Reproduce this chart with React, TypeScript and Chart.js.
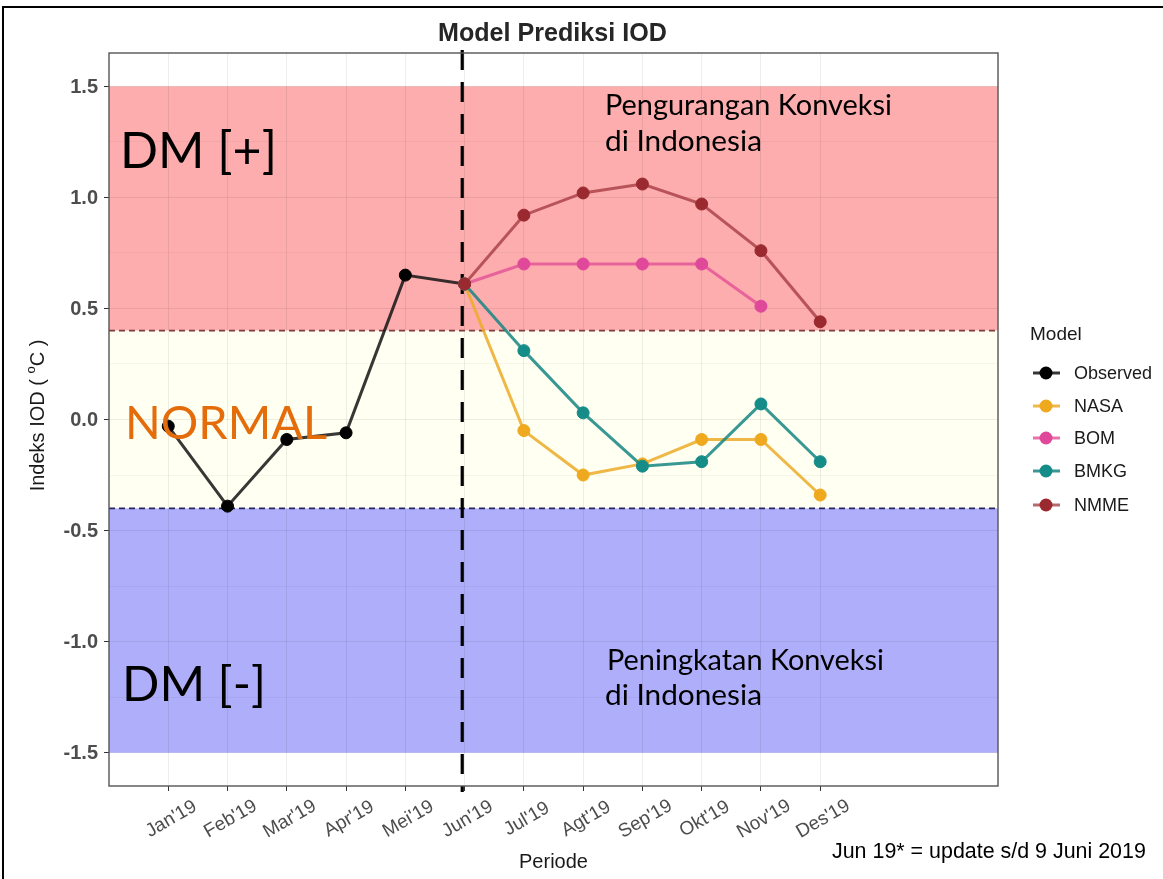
import React, { useEffect, useRef } from 'react';
import { Chart, registerables } from 'chart.js';

Chart.register(...registerables);

// ---------- data ----------
const months = ["Jan'19", "Feb'19", "Mar'19", "Apr'19", "Mei'19", "Jun'19", "Jul'19", "Agt'19", "Sep'19", "Okt'19", "Nov'19", "Des'19"];
const observed = [-0.03, -0.39, -0.09, -0.06, 0.65, 0.61]; // Jan..Jun
const forecastStart = 5; // index of Jun'19
const nasa = [0.61, -0.05, -0.25, -0.2, -0.09, -0.09, -0.34]; // Jun..Des
const bom = [0.61, 0.7, 0.7, 0.7, 0.7, 0.51]; // Jun..Nov
const bmkg = [0.61, 0.31, 0.03, -0.21, -0.19, 0.07, -0.19]; // Jun..Des
const nmme = [0.61, 0.92, 1.02, 1.06, 0.97, 0.76, 0.44]; // Jun..Des
const yMajorTicks = [-1.5, -1.0, -0.5, 0.0, 0.5, 1.0, 1.5];
const positiveBand = [0.4, 1.5];
const normalBand = [-0.4, 0.4];
const negativeBand = [-1.5, -0.4];
const thresholds = [0.4, -0.4];
const updateMarkX = 4.96;
const seriesNames = ['Observed', 'NASA', 'BOM', 'BMKG', 'NMME'];

// ---------- styles ----------
const pointColors = ['#000000', '#EFA91F', '#E0489A', '#168C88', '#9A2A30'];
const lineColors = ['rgba(20,20,20,0.85)', 'rgba(236,172,40,0.85)', 'rgba(226,80,150,0.8)', 'rgba(22,134,130,0.85)', 'rgba(160,55,62,0.75)'];
const AX = '"Liberation Sans", Arial, sans-serif';
const CAL = 'Lato, "Open Sans", sans-serif';

function fitText(ctx: CanvasRenderingContext2D, text: string, x: number, y: number, width: number, weight: string, family: string, color: string) {
  ctx.save();
  ctx.font = `${weight} 100px ${family}`;
  const w = ctx.measureText(text).width;
  const size = (100 * width) / w;
  ctx.font = `${weight} ${size}px ${family}`;
  ctx.fillStyle = color;
  ctx.textAlign = 'left';
  ctx.textBaseline = 'alphabetic';
  ctx.fillText(text, x, y);
  ctx.restore();
}

const yAllTicks: number[] = [];
yMajorTicks.forEach((v, i) => {
  yAllTicks.push(v);
  if (i < yMajorTicks.length - 1) yAllTicks.push((v + yMajorTicks[i + 1]) / 2);
});
const isMajor = (v: number) => yMajorTicks.some((m) => Math.abs(m - v) < 1e-6);

const decorPlugin = {
  id: 'decor',
  beforeDraw(chart: any) {
    const { ctx, chartArea: a, scales } = chart;
    const y = scales.y;
    ctx.save();
    const band = (r: number[], col: string) => {
      const t = y.getPixelForValue(r[1]);
      const b = y.getPixelForValue(r[0]);
      ctx.fillStyle = col;
      ctx.fillRect(a.left, t, a.right - a.left, b - t);
    };
    band(positiveBand, 'rgb(253,173,173)');
    band(normalBand, 'rgb(255,255,242)');
    band(negativeBand, 'rgb(174,174,250)');
    ctx.restore();
  },
  beforeDatasetsDraw(chart: any) {
    const { ctx, chartArea: a, scales } = chart;
    const y = scales.y;
    const x = scales.x;
    ctx.save();
    ctx.lineWidth = 1.6;
    ctx.setLineDash([6, 4]);
    thresholds.forEach((t, i) => {
      const py = y.getPixelForValue(t);
      ctx.strokeStyle = i === 0 ? '#7E3C3C' : '#262660';
      ctx.beginPath();
      ctx.moveTo(a.left, py);
      ctx.lineTo(a.right, py);
      ctx.stroke();
    });
    const vx = x.getPixelForValue(updateMarkX);
    ctx.strokeStyle = '#000';
    ctx.lineWidth = 3.2;
    ctx.setLineDash([20, 12]);
    ctx.beginPath();
    ctx.moveTo(vx, a.top - 3);
    ctx.lineTo(vx, a.bottom + 6);
    ctx.stroke();
    ctx.restore();
  },
  afterDraw(chart: any) {
    const { ctx, chartArea: a, scales } = chart;
    const y = scales.y;
    const x = scales.x;
    ctx.save();
    // panel border
    ctx.strokeStyle = '#555';
    ctx.lineWidth = 1.4;
    ctx.strokeRect(a.left, a.top, a.right - a.left, a.bottom - a.top);

    // y tick labels
    ctx.fillStyle = '#4d4d4d';
    ctx.font = `bold 20px ${AX}`;
    ctx.textAlign = 'right';
    ctx.textBaseline = 'middle';
    yMajorTicks.forEach((v) => {
      ctx.fillText(v.toFixed(1), a.left - 11, y.getPixelForValue(v) + 1);
    });

    // x tick labels, rotated
    ctx.font = `19px ${AX}`;
    ctx.textAlign = 'center';
    ctx.textBaseline = 'middle';
    months.forEach((m, i) => {
      const px = x.getPixelForValue(i);
      ctx.save();
      ctx.translate(px + 3, a.bottom + 33);
      ctx.rotate((-30 * Math.PI) / 180);
      ctx.fillText(m, 0, 0);
      ctx.restore();
    });

    // axis titles
    ctx.fillStyle = '#1a1a1a';
    ctx.font = `20px ${AX}`;
    ctx.textAlign = 'center';
    ctx.textBaseline = 'alphabetic';
    ctx.fillText('Periode', (a.left + a.right) / 2, 868);

    // y title with superscript
    ctx.save();
    ctx.translate(44, (a.top + a.bottom) / 2 - 4);
    ctx.rotate(-Math.PI / 2);
    ctx.textAlign = 'left';
    ctx.textBaseline = 'alphabetic';
    const p1 = 'Indeks IOD ( ';
    const sup = 'o';
    const p2 = 'C )';
    ctx.font = `20px ${AX}`;
    const w1 = ctx.measureText(p1).width;
    const w3 = ctx.measureText(p2).width;
    ctx.font = `13px ${AX}`;
    const w2 = ctx.measureText(sup).width;
    const total = w1 + w2 + w3;
    let cx = -total / 2;
    ctx.font = `20px ${AX}`;
    ctx.fillText(p1, cx, 0);
    cx += w1;
    ctx.font = `13px ${AX}`;
    ctx.fillText(sup, cx, -9);
    cx += w2;
    ctx.font = `20px ${AX}`;
    ctx.fillText(p2, cx, 0);
    ctx.restore();

    // chart title
    fitText(ctx, 'Model Prediksi IOD', 438, 41, 229, 'bold', AX, '#262626');

    // legend
    ctx.fillStyle = '#1a1a1a';
    ctx.font = `19px ${AX}`;
    ctx.textAlign = 'left';
    ctx.textBaseline = 'alphabetic';
    ctx.fillText('Model', 1030, 340);
    const legY = [373, 406, 438, 471, 505];
    seriesNames.forEach((n, i) => {
      const ly = legY[i];
      ctx.strokeStyle = lineColors[i];
      ctx.lineWidth = 3;
      ctx.beginPath();
      ctx.moveTo(1033, ly);
      ctx.lineTo(1060, ly);
      ctx.stroke();
      ctx.fillStyle = pointColors[i];
      ctx.beginPath();
      ctx.arc(1046, ly, 6.5, 0, Math.PI * 2);
      ctx.fill();
      ctx.fillStyle = '#1a1a1a';
      ctx.font = `18px ${AX}`;
      ctx.textBaseline = 'middle';
      ctx.fillText(n, 1074, ly + 1);
    });

    // annotations
    fitText(ctx, 'DM [+]', 120, 168, 157, 'normal', CAL, '#000');
    fitText(ctx, 'NORMAL', 125, 439, 202, 'normal', CAL, '#E46C0A');
    fitText(ctx, 'DM [-]', 122, 701, 144, 'normal', CAL, '#000');
    fitText(ctx, 'Pengurangan Konveksi', 605, 115, 287, 'normal', CAL, '#000');
    fitText(ctx, 'di Indonesia', 605, 151, 157, 'normal', CAL, '#000');
    fitText(ctx, 'Peningkatan Konveksi', 607, 670, 277, 'normal', CAL, '#000');
    fitText(ctx, 'di Indonesia', 605, 705, 157, 'normal', CAL, '#000');
    fitText(ctx, 'Jun 19* = update s/d 9 Juni 2019', 832, 858, 314, 'normal', AX, '#000');

    // outer frame
    ctx.fillStyle = '#000';
    ctx.fillRect(2, 6, 1161, 2);
    ctx.fillRect(2, 6, 2, 873);
    ctx.restore();
  },
};

export default function App() {
  const ref = useRef<HTMLCanvasElement | null>(null);
  useEffect(() => {
    if (!ref.current) return;
    const mk = (vals: number[], start: number) => vals.map((v, i) => ({ x: start + i, y: v }));
    const sets = [mk(observed, 0), mk(nasa, forecastStart), mk(bom, forecastStart), mk(bmkg, forecastStart), mk(nmme, forecastStart)];
    const chart = new Chart(ref.current, {
      type: 'line',
      data: {
        datasets: sets.map((d, i) => ({
          label: seriesNames[i],
          data: d,
          borderColor: lineColors[i],
          backgroundColor: pointColors[i],
          pointBackgroundColor: pointColors[i],
          pointBorderColor: pointColors[i],
          pointRadius: 6,
          pointBorderWidth: 1,
          borderWidth: 3,
          tension: 0,
          fill: false,
          order: 5 - i,
        })),
      },
      options: {
        responsive: false,
        animation: false,
        layout: { padding: { left: 0, right: 165, top: 53, bottom: 0 } },
        plugins: { legend: { display: false }, title: { display: false }, tooltip: { enabled: false } },
        scales: {
          x: {
            type: 'linear',
            min: -1,
            max: 14,
            afterBuildTicks: (s: any) => {
              s.ticks = months.map((_, i) => ({ value: i }));
            },
            afterFit: (s: any) => {
              s.height = 93;
            },
            ticks: { display: false },
            grid: { color: 'rgba(0,0,0,0.07)', lineWidth: 1, tickColor: '#333', tickLength: 5, drawTicks: true },
            border: { display: false },
          },
          y: {
            type: 'linear',
            min: -1.65,
            max: 1.65,
            afterBuildTicks: (s: any) => {
              s.ticks = yAllTicks.map((v) => ({ value: v }));
            },
            afterFit: (s: any) => {
              s.width = 109;
            },
            ticks: { display: false },
            grid: {
              color: (c: any) => (c.tick && isMajor(c.tick.value) ? 'rgba(0,0,0,0.07)' : 'rgba(0,0,0,0.04)'),
              tickColor: (c: any) => (c.tick && isMajor(c.tick.value) ? '#333' : 'rgba(0,0,0,0)'),
              tickLength: 5,
              drawTicks: true,
            },
            border: { display: false },
          },
        },
      },
      plugins: [decorPlugin],
    } as any);
    return () => chart.destroy();
  }, []);
  return (
    <div style={{ position: 'absolute', left: 0, top: 0, width: 1163, height: 879, background: '#fff' }}>
      <canvas ref={ref} width={1163} height={879} style={{ display: 'block' }} />
    </div>
  );
}
